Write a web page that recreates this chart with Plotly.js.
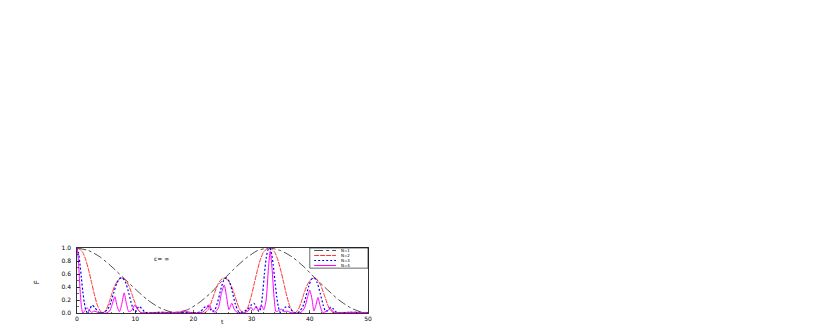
<!DOCTYPE html>
<html>
<head>
<meta charset="utf-8">
<script src="https://cdn.plot.ly/plotly-3.0.1.min.js"></script>
<style>
  html, body { margin: 0; padding: 0; background: #fff; }
  #plot { width: 830px; height: 327px; }
</style>
</head>
<body>
<div id="plot"></div>
<script>
// series names (legend)
var names = ['N=1', 'N=2', 'N=3', 'N=4'];

// N=1
var tN1 = [0, 2, 4, 6, 8, 10, 12, 14, 16, 17, 19, 21, 23, 25, 27, 29, 31, 33, 35, 37, 39, 41, 43, 45, 47, 49, 50];
var pN1 = [1.0, 0.96, 0.86, 0.71, 0.54, 0.37, 0.21, 0.09, 0.02, 0.01, 0.05, 0.16, 0.31, 0.5, 0.68, 0.84, 0.96, 1.0, 0.96, 0.86, 0.71, 0.53, 0.36, 0.2, 0.08, 0.01, 0.01];

// N=2
var tN2 = [0, 0.5, 1, 1.5, 2, 2.5, 3, 3.5, 4, 4.4, 5, 5.5, 6, 6.5, 7, 7.7, 8.4, 8.9, 9.4, 9.9, 10.4, 11.1, 12, 14, 16.5, 19, 21,
    21.9, 22.6, 23.1, 23.6, 24.1, 24.6, 25.3, 26, 26.5, 27, 27.5, 28, 28.7, 29.1, 29.5, 30, 30.5, 31, 31.5, 32, 32.5, 33,
    33.5, 34, 34.5, 35, 35.5, 36, 36.5, 37, 37.4, 38, 38.5, 39, 39.5, 40, 40.7, 41.4, 41.9, 42.4, 42.9, 43.4, 44.1, 45, 47, 50];
var pN2 = [1.0, 0.98, 0.93, 0.82, 0.66, 0.47, 0.28, 0.12, 0.03, 0.0, 0.05, 0.16, 0.3, 0.42, 0.5, 0.54, 0.5, 0.42, 0.3, 0.17, 0.06, 0.0, 0.005, 0.01, 0.01, 0.01, 0.005,
    0.0, 0.06, 0.17, 0.3, 0.42, 0.5, 0.54, 0.5, 0.42, 0.3, 0.16, 0.05, 0.0, 0.03, 0.12, 0.28, 0.47, 0.66, 0.82, 0.93, 0.98, 1.0,
    0.98, 0.93, 0.82, 0.66, 0.47, 0.28, 0.12, 0.03, 0.0, 0.05, 0.16, 0.3, 0.42, 0.5, 0.54, 0.5, 0.42, 0.3, 0.17, 0.06, 0.0, 0.005, 0.01, 0.005];

// N=3
var tN3 = [0, 0.25, 0.5, 0.75, 1, 1.25, 1.5, 1.8, 2.2, 2.6, 3.1, 3.6, 4.1, 4.8, 5.3, 5.8, 6.3, 6.8, 7.3, 7.8, 8.3, 8.8, 9.3, 9.8,
    10.1, 10.6, 11.1, 11.6, 12.2, 14, 16.5, 19, 20.5, 21.2, 21.8, 22.4, 22.9, 23.3, 23.7, 24.2, 24.7, 25.2, 25.7, 26.2, 26.7,
    27.2, 27.7, 28.2, 28.8, 29.4, 29.9, 30.4, 30.9, 31.3, 31.6, 31.9, 32.2, 32.5, 32.8, 33.1, 33.4, 33.7, 34.0, 34.3, 34.6,
    34.9, 35.3, 35.8, 36.3, 36.8, 37.3, 37.8, 38.3, 38.8, 39.3, 39.8, 40.3, 40.8, 41.3, 41.8, 42.3, 42.7, 43.1, 43.6, 44.1,
    44.6, 45.5, 47, 50];
var pN3 = [1.0, 0.93, 0.76, 0.54, 0.33, 0.16, 0.05, 0.0, 0.06, 0.12, 0.08, 0.02, 0.0, 0.02, 0.06, 0.16, 0.31, 0.45, 0.53, 0.54, 0.48, 0.34, 0.16, 0.03,
    0.02, 0.1, 0.07, 0.02, 0.0, 0.01, 0.005, 0.01, 0.0, 0.02, 0.08, 0.11, 0.06, 0.02, 0.05, 0.18, 0.36, 0.5, 0.54, 0.48, 0.32,
    0.14, 0.03, 0.01, 0.03, 0.06, 0.12, 0.15, 0.07, 0.02, 0.08, 0.3, 0.6, 0.84, 0.97, 1.0, 0.93, 0.75, 0.5, 0.26, 0.09,
    0.01, 0.02, 0.09, 0.1, 0.05, 0.01, 0.0, 0.03, 0.1, 0.24, 0.41, 0.52, 0.54, 0.46, 0.3, 0.12, 0.03, 0.04, 0.09, 0.06,
    0.01, 0.0, 0.01, 0.005];

// N=4
var tN4 = [0, 0.2, 0.4, 0.6, 0.8, 1.0, 1.3, 1.7, 2.1, 2.5, 2.9, 3.3, 3.8, 5.0, 5.6, 6.0, 6.5, 6.9, 7.3, 7.7, 8.1, 8.5, 8.9, 9.4,
    9.9, 10.4, 10.9, 12, 16.5, 18.8, 20, 21.5, 22.2, 22.7, 23.2, 23.7, 24.3, 24.8, 25.3, 25.7, 26.1, 26.6, 27.0, 27.5, 28.5,
    29.4, 29.9, 30.3, 30.8, 31.2, 31.7, 32.1, 32.5, 32.9, 33.2, 33.5, 33.9, 34.2, 34.7, 35.2, 35.6, 36.1, 36.6, 37.5, 38.5,
    39.1, 39.6, 40.0, 40.4, 40.7, 41.0, 41.4, 41.8, 42.2, 43.0, 43.5, 44.0, 45, 47, 50];
var pN4 = [1.0, 0.86, 0.56, 0.26, 0.07, 0.0, 0.03, 0.08, 0.05, 0.01, 0.03, 0.02, 0.0, 0.0, 0.03, 0.12, 0.25, 0.1, 0.02, 0.14, 0.31, 0.14, 0.02, 0.04,
    0.12, 0.06, 0.01, 0.0, 0.005, 0.02, 0.0, 0.01, 0.06, 0.13, 0.04, 0.01, 0.08, 0.3, 0.43, 0.25, 0.05, 0.15, 0.06, 0.01, 0.0,
    0.03, 0.09, 0.04, 0.1, 0.04, 0.12, 0.05, 0.2, 0.7, 0.95, 0.7, 0.2, 0.02, 0.04, 0.06, 0.02, 0.03, 0.01, 0.0, 0.01,
    0.08, 0.24, 0.35, 0.2, 0.03, 0.1, 0.24, 0.1, 0.01, 0.03, 0.07, 0.02, 0.0, 0.01, 0.0];

var xTicks = [0, 10, 20, 30, 40, 50];
var yTicks = [0.0, 0.2, 0.4, 0.6, 0.8, 1.0];

var colors = ['#000000', '#ff3030', '#0000ff', '#ff00ff'];
var dashes = ['dashdot', '5px,1px', '2px,2px', 'solid'];
var widths = [0.7, 1, 1.2, 1];

var ts = [tN1, tN2, tN3, tN4];
var ps = [pN1, pN2, pN3, pN4];

var data = [];
for (var i = 0; i < 4; i++) {
    data.push({
        name: names[i],
        x: ts[i],
        y: ps[i],
        type: 'scatter',
        mode: 'lines',
        line: { color: colors[i], dash: dashes[i], width: widths[i], shape: 'spline', smoothing: 0.6 },
        showlegend: false
    });
}

// hand made legend box (plotly legend rows are too tall for this tiny frame)
var shapes = [{
    type: 'rect', xref: 'paper', yref: 'paper',
    x0: 0.80, x1: 1.0, y0: 0.69, y1: 1.0,
    line: { color: '#000', width: 0.6 }, fillcolor: '#fff'
}];
var annotations = [];
var rowY = [0.962, 0.885, 0.808, 0.731];
for (var j = 0; j < 4; j++) {
    shapes.push({
        type: 'line', xref: 'paper', yref: 'paper',
        x0: 0.815, x1: 0.89, y0: rowY[j], y1: rowY[j],
        line: { color: colors[j], dash: dashes[j], width: widths[j] }
    });
    annotations.push({
        xref: 'paper', yref: 'paper', x: 0.905, y: rowY[j],
        xanchor: 'left', yanchor: 'middle', showarrow: false, borderpad: 0,
        text: names[j], font: { family: 'DejaVu Sans', size: 4, color: '#000' }
    });
}
annotations.push({
    xref: 'x', yref: 'y', x: 14.6, y: 0.84, showarrow: false,
    text: 'c= ∞', font: { family: 'DejaVu Sans', size: 6, color: '#000' }
});
annotations.push({
    xref: 'paper', yref: 'paper', x: 0.5, y: -0.13, yanchor: 'middle', showarrow: false,
    text: 't', font: { family: 'DejaVu Sans', size: 6, color: '#000' }
});
annotations.push({
    xref: 'paper', yref: 'paper', x: -0.16, y: 0.48, showarrow: false, textangle: -90,
    text: 'F', font: { family: 'DejaVu Sans', size: 7, color: '#000' }
});

var layout = {
    width: 830,
    height: 327,
    margin: { l: 77, r: 462, t: 248, b: 14, pad: 0 },
    paper_bgcolor: '#fff',
    plot_bgcolor: '#fff',
    showlegend: false,
    xaxis: {
        range: [0, 50],
        tickvals: xTicks,
        ticktext: xTicks.map(String),
        ticks: 'inside', ticklen: 3, tickwidth: 0.6, tickcolor: '#000',
        minor: { ticks: 'inside', ticklen: 1.5, dtick: 2, tickcolor: '#000' },
        showgrid: false, zeroline: false,
        showline: true, linecolor: '#000', linewidth: 0.8, mirror: true,
        tickfont: { family: 'DejaVu Sans', size: 6, color: '#000' },
        fixedrange: true
    },
    yaxis: {
        range: [0, 1.0],
        tickvals: yTicks,
        ticktext: yTicks.map(function (v) { return v.toFixed(1); }),
        ticks: 'inside', ticklen: 3, tickwidth: 0.6, tickcolor: '#000',
        minor: { ticks: 'inside', ticklen: 1.5, dtick: 0.1, tickcolor: '#000' },
        showgrid: false, zeroline: false,
        showline: true, linecolor: '#000', linewidth: 0.8, mirror: true,
        tickfont: { family: 'DejaVu Sans', size: 6, color: '#000' },
        ticklabelstandoff: 4,
        fixedrange: true
    },
    shapes: shapes,
    annotations: annotations
};

Plotly.newPlot('plot', data, layout, { displayModeBar: false, staticPlot: true });
</script>
</body>
</html>
